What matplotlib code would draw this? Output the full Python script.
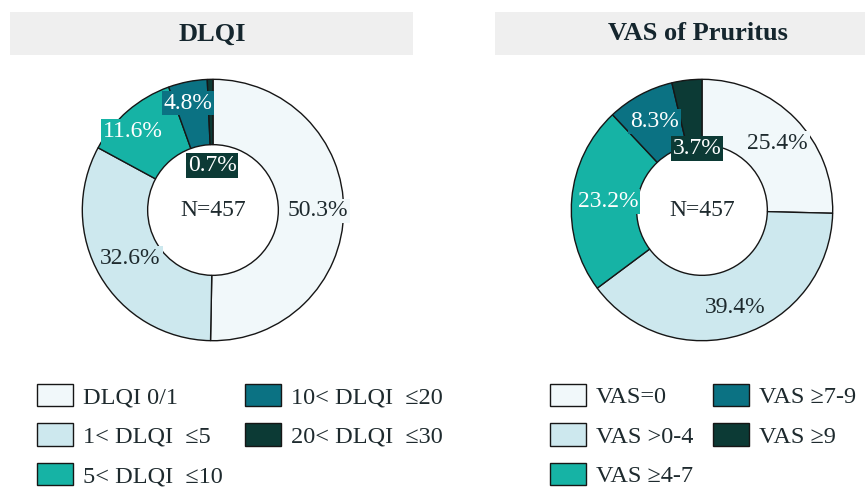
import numpy as np
import matplotlib.pyplot as plt
from matplotlib.patches import Rectangle

plt.rcParams['font.family'] = ['Liberation Serif', 'DejaVu Serif']

# data
dlqiLabels = ["DLQI 0/1", "1< DLQI  ≤5", "5< DLQI  ≤10", "10< DLQI  ≤20", "20< DLQI  ≤30"]
dlqiValues = [50.3, 32.6, 11.6, 4.8, 0.7]

vasLabels = ["VAS=0", "VAS >0-4", "VAS ≥4-7", "VAS ≥7-9", "VAS ≥9"]
vasValues = [25.4, 39.4, 23.2, 8.3, 3.7]

sampleSize = 457

colors = ["#f1f8fa", "#cde8ee", "#16b3a5", "#0b7283", "#0c3a35"]
textColors = ["#1e2a2e", "#1e2a2e", "white", "white", "white"]
boxColors = ["#f1f8fa", "#cde8ee", "#16b3a5", "#0b7283", "#0c3a35"]

# label radius factors (fraction of outer radius) and angle shift in degrees
dlqiLabelPos = [(0.80, 0), (0.73, 0), (0.86, 5), (0.84, 2), (0.34, 0)]
vasLabelPos = [(0.77, -3), (0.79, 1), (0.72, 0), (0.77, 0), (0.47, -2)]

fig = plt.figure(figsize=(8.65, 4.87), dpi=100)
W, H = 865, 487


def figBox(cx, cy, r):
    return [(cx - r) / W, 1 - (cy + r) / H, 2 * r / W, 2 * r / H]


def drawDonut(ax, values, labelPos):
    wedges, _ = ax.pie(
        values, colors=colors, startangle=90, counterclock=False,
        radius=1, wedgeprops=dict(width=0.5, edgecolor="#161616", linewidth=1.0)
    )
    for i, w in enumerate(wedges):
        r, shift = labelPos[i]
        ang = np.deg2rad((w.theta1 + w.theta2) / 2 + shift)
        ax.text(
            r * np.cos(ang), r * np.sin(ang), f"{values[i]}%",
            ha="center", va="center", fontsize=17, color=textColors[i],
            bbox=dict(boxstyle="square,pad=0.08", facecolor=boxColors[i], edgecolor="none"),
            zorder=5
        )
    ax.text(0, 0, f"N={sampleSize}", ha="center", va="center", fontsize=17, color="#1e2a2e")
    ax.set_xlim(-1.01, 1.01)
    ax.set_ylim(-1.01, 1.01)
    ax.set_aspect("equal")
    ax.axis("off")
    return wedges


axL = fig.add_axes(figBox(213, 210, 132))
wedgesL = drawDonut(axL, dlqiValues, dlqiLabelPos)
axR = fig.add_axes(figBox(702, 210, 132))
wedgesR = drawDonut(axR, vasValues, vasLabelPos)

# title bars
for x0, x1, cx, title in [(10, 413, 212, "DLQI"), (495, 865, 698, "VAS of Pruritus")]:
    fig.patches.append(Rectangle(
        (x0 / W, 1 - 55 / H), (x1 - x0) / W, 43 / H,
        transform=fig.transFigure, facecolor="#efefef", edgecolor="none", zorder=0
    ))
    fig.text(cx / W, 1 - 34 / H, title, ha="center", va="center",
             fontsize=19, fontweight="bold", color="#15262e")

legendArgs = dict(
    ncol=2, frameon=False, fontsize=17.5, handlelength=1.48, handleheight=1.03,
    handletextpad=0.42, labelspacing=0.62, borderaxespad=0, borderpad=0,
    loc="upper left", labelcolor="#1e2a2e"
)
legL = fig.legend(wedgesL, dlqiLabels, bbox_to_anchor=(37 / W, 1 - 384 / H),
                  columnspacing=0.9, **legendArgs)
legR = fig.legend(wedgesR, vasLabels, bbox_to_anchor=(550 / W, 1 - 384 / H),
                  columnspacing=0.8, **legendArgs)
for leg in (legL, legR):
    for h in leg.legend_handles:
        h.set_edgecolor("#161616")
        h.set_linewidth(1.0)

fig.savefig("out.png", dpi=100)
